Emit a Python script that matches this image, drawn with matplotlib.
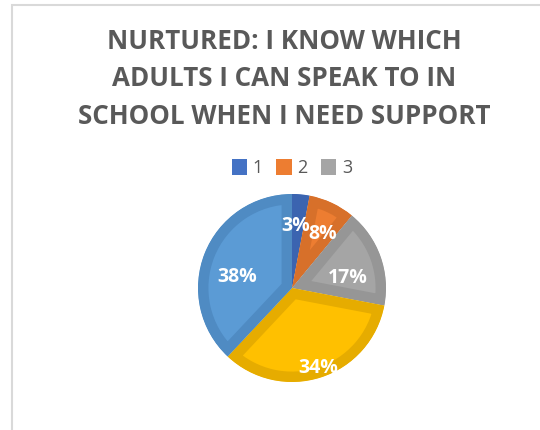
import matplotlib
matplotlib.use("Agg")
import matplotlib.pyplot as plt
from matplotlib.patches import Rectangle, Wedge
import numpy as np

# Survey answers (scale 1-5) and their share of responses in percent
categories = ["1", "2", "3", "4", "5"]
shares = [3, 8, 17, 34, 38]
title = "NURTURED: I KNOW WHICH\nADULTS I CAN SPEAK TO IN\nSCHOOL WHEN I NEED SUPPORT"

fills = ["#4472C4", "#ED7D31", "#A5A5A5", "#FFC000", "#5B9BD5"]
borders = ["#3B64B0", "#D7702A", "#969696", "#E6AC00", "#4F8BC3"]
# where each percentage sits: fraction of the radius, and angle nudge (deg)
label_dist = [0.66, 0.66, 0.6, 0.9, 0.6]
label_turn = [2, -4, -10, 0, 10]

W, H = 540, 430
fig = plt.figure(figsize=(W / 100, H / 100), dpi=100)
fig.patch.set_facecolor("white")

# light frame around the chart area
fig.add_artist(Rectangle((12 / W, -0.1), 1.2, (H - 5) / H + 0.1,
                         transform=fig.transFigure, fill=False,
                         edgecolor="#D9D9D9", linewidth=1.5))

fig.text(284 / W, 1 - 79 / H, title, ha="center", va="center",
         fontsize=18.7, fontweight="bold", color="#595959",
         family="Open Sans", linespacing=1.48)

cx, cy, r = 292, H - 288, 94
ax = fig.add_axes([(cx - r) / W, (cy - r) / H, 2 * r / W, 2 * r / H])
wedges, _ = ax.pie(shares, colors=fills, startangle=90, counterclock=False,
                   radius=1)
ax.set_xlim(-1, 1)
ax.set_ylim(-1, 1)
ax.set_aspect("equal")
ax.axis("off")

# darker inner rim on every slice: a wide stroke clipped to a copy of the slice
for w, edge in zip(wedges, borders):
    clip = Wedge(w.center, w.r, w.theta1, w.theta2, transform=ax.transData)
    w.set_edgecolor(edge)
    w.set_linewidth(15)
    w.set_joinstyle("miter")
    w.set_clip_on(True)
    w.set_clip_path(clip)

for w, pct, d, turn in zip(wedges, shares, label_dist, label_turn):
    mid = np.deg2rad((w.theta1 + w.theta2) / 2 + turn)
    ax.text(d * np.cos(mid), d * np.sin(mid), f"{pct}%", ha="center",
            va="center", color="white", fontsize=14, fontweight="bold",
            family="Open Sans")

leg = fig.legend(wedges[:3], categories[:3], loc="center", ncol=3,
                 bbox_to_anchor=(292 / W, 1 - 168 / H), frameon=False,
                 handlelength=0.85, handleheight=1.0, handletextpad=0.3,
                 columnspacing=0.75, prop={"family": "Open Sans", "size": 13})
for t in leg.get_texts():
    t.set_color("#595959")
for h, c in zip(leg.legend_handles, fills):
    h.set_linewidth(0)
    h.set_facecolor(c)

fig.savefig("out.png", dpi=100, facecolor="white")
